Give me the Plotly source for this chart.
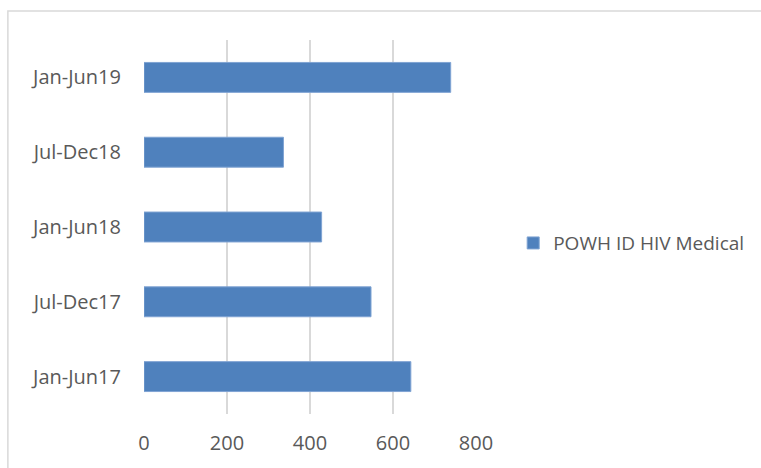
import plotly.graph_objects as go

# periods, bottom to top as drawn
periods = ["Jan-Jun17", "Jul-Dec17", "Jan-Jun18", "Jul-Dec18", "Jan-Jun19"]
values = [643, 547, 428, 336, 739]
series_name = "POWH ID HIV Medical"
x_ticks = [0, 200, 400, 600, 800]

fig = go.Figure()
fig.add_trace(go.Bar(
    x=values,
    y=periods,
    orientation="h",
    name=series_name,
    marker=dict(color="#4F81BD", line=dict(color="#7FA3D3", width=1)),
    showlegend=True,
))

font_family = "Open Sans, Liberation Sans, sans-serif"

fig.update_layout(
    width=761, height=468,
    margin=dict(l=143.5, r=284.5, t=40, b=54),
    plot_bgcolor="white",
    paper_bgcolor="white",
    bargap=0.6,
    font=dict(family=font_family, size=15, color="#595959"),
    xaxis=dict(
        range=[0, 800],
        tickvals=x_ticks,
        showgrid=True, gridcolor="#d9d9d9", gridwidth=1.5,
        zeroline=False, showline=False,
        ticks="", ticklabelstandoff=15,
        tickfont=dict(size=20, color="#595959"),
        fixedrange=True,
    ),
    yaxis=dict(
        categoryorder="array", categoryarray=periods,
        showgrid=False, zeroline=False, showline=False,
        ticks="", ticklabelstandoff=22,
        tickfont=dict(size=20, color="#595959"),
        fixedrange=True,
    ),
    legend=dict(
        x=1.112, y=0.457, xanchor="left", yanchor="middle",
        font=dict(size=19, color="#595959"),
        itemwidth=30,
    ),
    shapes=[dict(
        type="rect", xref="paper", yref="paper",
        x0=-0.41, x1=1.9, y0=-0.3, y1=1.0775,
        line=dict(color="#d9d9d9", width=1.5),
        layer="below",
    )],
)

# the page body has a default 8px margin; remove it so the figure sits at 0,0
fig.write_html("out.html", config={"displayModeBar": False},
               post_script="document.body.style.margin='0';")
